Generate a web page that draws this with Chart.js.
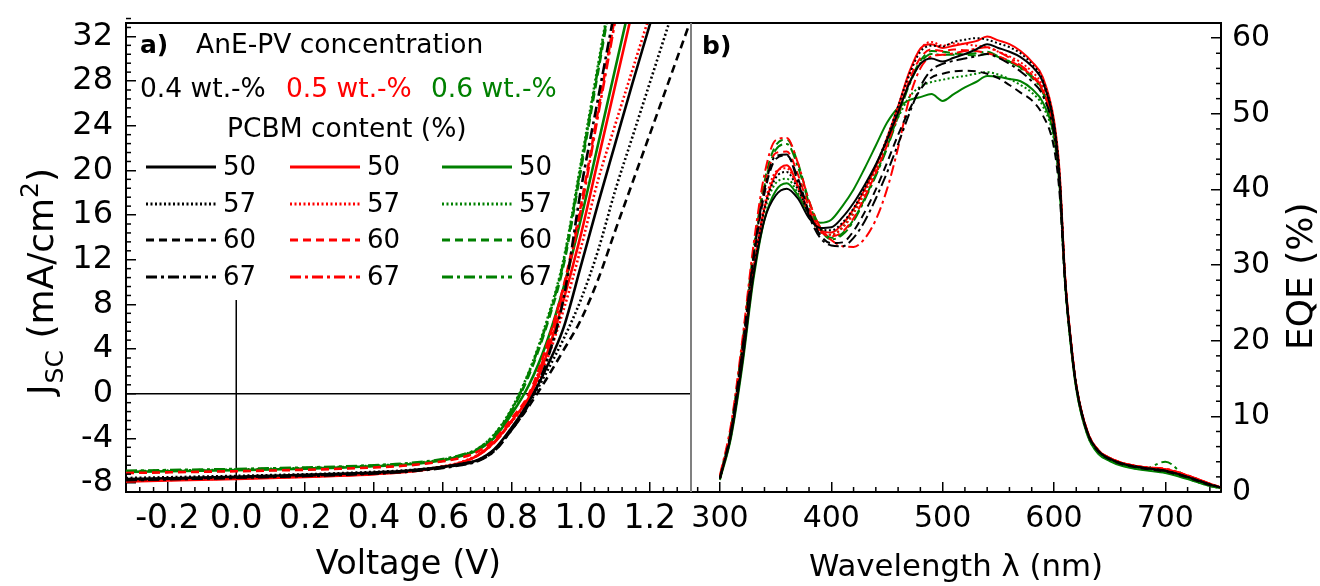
<!DOCTYPE html>
<html><head><meta charset="utf-8">
<script src="https://cdn.jsdelivr.net/npm/chart.js@4.4.1/dist/chart.umd.min.js"></script>
<style>
html,body{margin:0;padding:0;background:#fff;}
#wrap{position:relative;width:1320px;height:586px;overflow:hidden;background:#fff;}
canvas{position:absolute;left:0;top:0;}
</style></head><body>
<div id="wrap"><canvas id="jv" width="1320" height="586"></canvas><canvas id="eqe" width="1320" height="586"></canvas></div>
<script>
// ---------- DATA ----------
// Panel a) J-V curves: voltage grid (V) and current density (mA/cm2)
const voltage = [-0.32,-0.2,-0.1,0,0.1,0.2,0.3,0.4,0.5,0.6,0.65,0.7,0.75,0.8,0.85,0.9,0.95,1.0,1.05,1.1,1.15,1.2,1.25,1.3,1.35];
// 0.4 wt.-% (black)
const jv04_50 = [-7.65,-7.57,-7.5,-7.43,-7.35,-7.27,-7.17,-7.05,-6.87,-6.55,-6.3,-5.95,-4.95,-3.0,-0.7,2.3,5.9,11.4,17.0,22.4,27.8,33.0,38.3];
const jv04_57 = [-7.55,-7.48,-7.42,-7.36,-7.29,-7.22,-7.12,-7.0,-6.85,-6.55,-6.3,-5.95,-5.0,-3.1,-0.9,1.9,4.9,8.4,12.8,18.2,23.0,27.8,32.6,37.4];
const jv04_60 = [-7.7,-7.62,-7.55,-7.48,-7.4,-7.32,-7.22,-7.1,-6.92,-6.6,-6.35,-6.0,-5.1,-3.2,-1.1,1.3,3.9,6.6,10.2,14.6,18.9,23.2,27.5,31.8,36.1];
const jv04_67 = [-7.75,-7.67,-7.6,-7.53,-7.45,-7.37,-7.27,-7.15,-6.97,-6.65,-6.4,-6.05,-5.1,-3.2,-0.9,2.8,8.5,18.2,26.4,34.6];
// 0.5 wt.-% (red)
const jv05_50 = [-7.85,-7.77,-7.7,-7.63,-7.55,-7.46,-7.35,-7.2,-6.98,-6.55,-6.2,-5.55,-4.3,-2.4,-0.3,3.4,8.4,14.2,20.9,27.6,34.3];
const jv05_57 = [-7.8,-7.72,-7.65,-7.58,-7.5,-7.41,-7.3,-7.15,-6.94,-6.5,-6.15,-5.5,-4.3,-2.5,-0.5,2.9,7.5,13.0,19.1,24.1,29.0,33.9];
const jv05_60 = [-7.1,-7.04,-6.99,-6.94,-6.88,-6.81,-6.72,-6.6,-6.42,-6.05,-5.75,-5.2,-4.1,-2.2,0.0,4.2,9.6,16.8,25.3,33.9];
const jv05_67 = [-7.8,-7.72,-7.65,-7.58,-7.5,-7.42,-7.32,-7.18,-6.97,-6.55,-6.2,-5.55,-4.35,-2.45,-0.2,3.9,9.3,16.4,24.9,33.4];
// 0.6 wt.-% (green)
const jv06_50 = [-7.0,-6.94,-6.89,-6.84,-6.78,-6.71,-6.62,-6.5,-6.32,-5.95,-5.6,-5.05,-3.9,-1.8,0.8,4.5,9.5,15.6,22.3,29.1,35.9];
const jv06_57 = [-6.95,-6.89,-6.84,-6.79,-6.73,-6.66,-6.57,-6.45,-6.27,-5.9,-5.55,-4.95,-3.6,-1.3,2.0,6.4,12.0,20.6,29.4,38.2];
const jv06_60 = [-7.05,-6.99,-6.94,-6.89,-6.83,-6.76,-6.67,-6.55,-6.37,-6.0,-5.65,-5.05,-3.75,-1.5,1.7,6.0,11.5,20.0,28.8,37.6];
const jv06_67 = [-6.9,-6.84,-6.79,-6.74,-6.68,-6.61,-6.52,-6.4,-6.22,-5.85,-5.5,-4.95,-3.65,-1.4,1.9,6.2,11.8,20.3,29.1,37.9];

// Panel b) EQE spectra: wavelength grid (nm) and EQE (%)
const wavelength = [300,310,320,330,340,350,360,370,380,390,400,410,420,430,440,450,460,470,480,490,500,510,520,530,540,550,560,570,580,590,600,605,610,615,620,630,640,650,660,680,700,720,740,750];
const eqe04_50 = [1.8,7.5,17,28.5,36,39.2,40.1,38.8,36.2,34.9,35.0,36.3,38.2,40.6,43.3,46.5,50.2,54.0,56.6,57.3,56.9,57.4,57.9,58.5,59.2,58.7,58.2,57.5,56.3,54.2,48.5,41.5,28,20,14,7.9,5.4,4.4,3.8,3.2,2.8,2.0,1.0,0.6];
const eqe04_57 = [1.8,7.8,17.5,29,37.5,41.5,42.3,40,36.8,34.7,34.6,35.6,37.5,40.2,43.2,46.8,51,55.2,58.2,59.0,58.9,59.5,59.8,60.0,59.8,59.3,58.8,58.0,56.6,54.4,48.8,42,28.2,20.1,14.1,7.9,5.4,4.4,3.8,3.2,2.8,2.0,1.0,0.6];
const eqe04_60 = [1.8,8,18.5,30.5,39.5,44,44.5,41.5,37,34,32.9,33.0,34.5,37,40,43.5,47.2,50.5,53.2,54.8,55.3,55.6,55.7,55.6,55.3,54.7,53.8,52.8,51.8,49.8,45.5,39.5,27.5,19.8,13.9,7.8,5.3,4.3,3.7,3.1,2.7,1.9,0.9,0.6];
const eqe04_67 = [1.8,8.2,18.8,31,40,44.4,44.6,41,36.5,33.6,32.6,32.5,33.6,35.8,38.8,42.2,46,50,53.6,55.8,56.6,57.0,57.3,57.6,57.9,57.4,56.6,55.6,54.3,52.4,47.4,41,28,20,14,7.9,5.4,4.4,3.8,3.2,2.8,2.0,1.0,0.6];
const eqe05_50 = [1.8,7.8,17.5,29,37.5,42,43.2,40.5,37,34.6,34.3,35.4,37.4,40,43,46.8,51,55.5,58.6,59.2,58.7,59.0,59.3,59.6,60.2,59.7,59.2,58.3,56.9,54.8,49.2,42.5,28.5,20.3,14.2,8.0,5.5,4.5,3.9,3.3,3.0,2.2,1.1,0.6];
const eqe05_57 = [2,8,18,29.5,38,42.3,42.8,40.2,36.8,34.4,34.0,34.9,36.8,39.5,42.6,46.3,50.6,55,58.5,59.5,59.0,59.3,59.2,59.0,58.8,58.2,57.6,56.8,55.6,53.6,48.2,41.8,28.2,20.2,14.1,8.0,5.5,4.5,3.9,3.3,3.0,2.1,1.0,0.6];
const eqe05_60 = [1.9,8.2,18.8,31,40.2,44.8,45,42,37.6,34.6,33.8,34.4,36.2,39,42.2,45.8,50,54.4,57.4,58.5,58.3,58.5,58.4,58.3,58.0,57.6,57.0,56.2,55.0,53.0,47.8,41.5,28.3,20.2,14.1,8.0,5.5,4.5,3.9,3.3,3.0,2.2,1.1,0.6];
const eqe05_67 = [2.2,9,20,32.5,42,46.5,46.8,43.5,38.5,35,33.3,32.5,32.4,33.5,36,40,45.5,52,56,57.6,57.8,58,58.3,58.6,58.8,58.2,57.4,56.4,55.2,53.2,48,41.6,28.4,20.3,14.2,8.1,5.5,4.5,3.9,3.3,3.1,2.2,1.1,0.6];
const eqe06_50 = [1.6,7.2,16.5,28,36,39.8,40.8,39.2,36.8,35.6,36.0,37.8,40.0,42.8,45.8,48.8,50.8,51.8,52.2,52.6,51.7,52.6,53.5,54.2,55.0,54.9,54.6,54.3,53.3,51.5,47,40.5,27.5,19.5,13.6,7.5,5.0,4.1,3.5,2.9,2.5,1.7,0.8,0.5];
const eqe06_57 = [1.7,7.5,17.2,28.8,37,40.8,41.4,39.5,36.5,34.4,34.0,35.0,37.0,39.8,42.8,46.2,49.5,52.2,53.6,54.2,54.5,54.8,55.0,55.3,55.5,55.2,54.6,53.8,52.8,51,46.5,40.3,27.5,19.6,13.7,7.6,5.1,4.2,3.6,3.0,2.6,1.8,0.8,0.5];
const eqe06_60 = [2,8.6,19.5,31.8,41,45.8,46.6,43.5,38.5,35,33.6,34.2,36,38.8,42,45.6,49.8,54,57,58.3,58.2,58.0,57.8,57.7,57.9,57.5,56.9,56.1,55.0,53,47.6,41.2,28,20,14,7.8,5.2,4.2,3.6,3.0,2.6,1.8,0.9,0.5];
const eqe06_67 = [2,8.5,19.2,31.4,40.5,45.2,46,43,38.2,34.8,33.4,34.0,35.8,38.6,41.8,45.4,49.6,53.8,56.7,57.9,57.8,57.8,57.9,58.0,58.2,57.6,56.9,56.0,54.8,52.8,47.4,41,27.9,19.9,13.9,7.8,5.2,4.2,3.6,3.0,4.0,1.8,0.9,0.5];

// Labels and ticks
const concentrationLabels = ['0.4 wt.-%','0.5 wt.-%','0.6 wt.-%'];
const pcbmLabels = ['50','57','60','67'];
const jvXTicks = [-0.2,0,0.2,0.4,0.6,0.8,1.0,1.2];
const jvYTicks = [-8,-4,0,4,8,12,16,20,24,28,32];
const eqeXTicks = [300,400,500,600,700];
const eqeYTicks = [0,10,20,30,40,50,60];

// ---------- STYLE ----------
const FONT = "'DejaVu Sans', sans-serif";
Chart.defaults.font.family = FONT;
const COLORS = ['#000000','#ff0000','#008000'];
const DASHES = [[], [2,2.5], [8,5], [11,4,3,4]];
const JV_X = [-0.32, 1.32], JV_Y = [-8.8, 33.2];
const EQE_X = [274, 750], EQE_Y = [0, 62];

const jvSeries = [[jv04_50,jv04_57,jv04_60,jv04_67],[jv05_50,jv05_57,jv05_60,jv05_67],[jv06_50,jv06_57,jv06_60,jv06_67]];
const eqeSeries = [[eqe04_50,eqe04_57,eqe04_60,eqe04_67],[eqe05_50,eqe05_57,eqe05_60,eqe05_67],[eqe06_50,eqe06_57,eqe06_60,eqe06_67]];

function buildSets(series, xs, width) {
  const out = [];
  series.forEach((group, c) => group.forEach((arr, p) => {
    out.push({
      label: concentrationLabels[c] + ' / ' + pcbmLabels[p],
      data: arr.map((y, i) => ({x: xs[i], y: y})),
      borderColor: COLORS[c], borderWidth: width, borderDash: DASHES[p],
      pointRadius: 0, fill: false, cubicInterpolationMode: 'monotone'
    });
  }));
  return out;
}

function minorValues(min, max, step, majors) {
  const out = [];
  const n = Math.round((max - min) / step);
  for (let i = 0; i <= n; i++) {
    const v = +(min + i * step).toFixed(6);
    if (!majors.some(m => Math.abs(m - v) < 1e-6)) out.push(v);
  }
  return out;
}

function line(ctx, x1, y1, x2, y2, color, w) {
  ctx.save(); ctx.strokeStyle = color; ctx.lineWidth = w; ctx.setLineDash([]);
  ctx.beginPath(); ctx.moveTo(x1, y1); ctx.lineTo(x2, y2); ctx.stroke(); ctx.restore();
}

function text(ctx, s, x, y, size, color, bold, align) {
  ctx.save(); ctx.font = (bold ? 'bold ' : '') + size + 'px ' + FONT;
  ctx.fillStyle = color; ctx.textAlign = align || 'left'; ctx.textBaseline = 'middle';
  ctx.fillText(s, x, y); ctx.restore();
}

function noPad(s) { s.paddingTop = 0; s.paddingBottom = 0; s.paddingLeft = 0; s.paddingRight = 0; }

// ---------- PANEL a) ----------
const jvDecor = {
  id: 'jvDecor',
  beforeDatasetsDraw(chart) {
    const {ctx, chartArea: a, scales: {x, y}} = chart;
    const y0 = y.getPixelForValue(0), x0 = x.getPixelForValue(0);
    line(ctx, a.left, y0, a.right, y0, '#000', 1.5);
    line(ctx, x0, a.bottom, x0, y.getPixelForValue(8.4), '#000', 1.5);
  },
  afterDraw(chart) {
    const {ctx, chartArea: a, scales: {x, y}} = chart;
    line(ctx, a.left - 1, a.top, a.right, a.top, '#000', 2);
    line(ctx, a.right, a.top, a.right, a.bottom, '#808080', 2);
    minorValues(JV_X[0], JV_X[1], 0.04, jvXTicks).forEach(v => {
      const px = x.getPixelForValue(v); line(ctx, px, a.bottom, px, a.bottom - 5, '#000', 1.5);
    });
    minorValues(JV_Y[0], JV_Y[1], 0.8, jvYTicks).forEach(v => {
      const py = y.getPixelForValue(v); line(ctx, a.left, py, a.left + 5, py, '#000', 1.5);
    });
    // headings
    text(ctx, 'a)', 140, 46, 25, '#000', true);
    text(ctx, 'AnE-PV concentration', 196, 46, 26.5, '#000');
    const concX = [140, 286, 431];
    concentrationLabels.forEach((s, c) => text(ctx, s, concX[c], 90, 26.5, COLORS[c]));
    text(ctx, 'PCBM content (%)', 227, 130, 26.5, '#000');
    const rowY = [167, 204, 240, 277], colX = [146, 290, 442];
    colX.forEach((cx, c) => rowY.forEach((ry, p) => {
      ctx.save(); ctx.strokeStyle = COLORS[c]; ctx.lineWidth = 3; ctx.setLineDash(DASHES[p]);
      ctx.beginPath(); ctx.moveTo(cx, ry); ctx.lineTo(cx + 70, ry); ctx.stroke(); ctx.restore();
      text(ctx, pcbmLabels[p], cx + 77, ry + 1, 26, '#000');
    }));
    // y title J_SC (mA/cm^2), rotated
    ctx.save(); ctx.translate(53, 395); ctx.rotate(-Math.PI / 2);
    ctx.fillStyle = '#000'; ctx.textBaseline = 'alphabetic'; ctx.textAlign = 'left';
    let cx = 0;
    ctx.font = '36px ' + FONT; ctx.fillText('J', cx, 0); cx += ctx.measureText('J').width + 1;
    ctx.font = '25px ' + FONT; ctx.fillText('SC', cx, 10); cx += ctx.measureText('SC').width;
    ctx.font = '36px ' + FONT; ctx.fillText(' (mA/cm', cx, 0); cx += ctx.measureText(' (mA/cm').width;
    ctx.font = '25px ' + FONT; ctx.fillText('2', cx, -15); cx += ctx.measureText('2').width;
    ctx.font = '36px ' + FONT; ctx.fillText(')', cx, 0);
    ctx.restore();
  }
};

new Chart(document.getElementById('jv'), {
  type: 'line',
  data: {datasets: buildSets(jvSeries, voltage, 2.6)},
  options: {
    responsive: false, animation: false, events: [],
    layout: {padding: {left: 0, right: 629, top: 23, bottom: 0}},
    plugins: {legend: {display: false}, tooltip: {enabled: false}},
    scales: {
      x: {type: 'linear', position: 'bottom', min: JV_X[0], max: JV_X[1], bounds: 'data',
        afterBuildTicks: s => { s.ticks = jvXTicks.map(v => ({value: v})); },
        afterFit: s => { s.height = 94; noPad(s); },
        ticks: {autoSkip: false, maxRotation: 0, padding: 18, color: '#000', font: {size: 33}, callback: v => v.toFixed(1)},
        grid: {drawOnChartArea: false, tickLength: -10, color: '#000', lineWidth: 1.5},
        border: {display: true, color: '#000', width: 2},
        title: {display: true, text: 'Voltage (V)', color: '#000', font: {size: 33.5}, padding: {top: 0, bottom: 1}}},
      y: {type: 'linear', position: 'left', min: JV_Y[0], max: JV_Y[1], bounds: 'data',
        afterBuildTicks: s => { s.ticks = jvYTicks.map(v => ({value: v})); },
        afterFit: s => { s.width = 126; noPad(s); },
        ticks: {padding: 23, color: '#000', font: {size: 32}},
        grid: {drawOnChartArea: false, tickLength: -10, color: '#000', lineWidth: 1.5},
        border: {display: true, color: '#000', width: 2}}
    }
  },
  plugins: [jvDecor]
});

// ---------- PANEL b) ----------
const eqeDecor = {
  id: 'eqeDecor',
  afterDraw(chart) {
    const {ctx, chartArea: a, scales: {x, y}} = chart;
    line(ctx, a.left, a.top, a.right + 1, a.top, '#000', 2);
    line(ctx, a.left, a.top, a.left, a.bottom, '#808080', 2);
    minorValues(280, 740, 20, eqeXTicks).forEach(v => {
      const px = x.getPixelForValue(v); line(ctx, px, a.bottom, px, a.bottom - 5, '#000', 1.5);
    });
    minorValues(0, 62, 2, eqeYTicks).forEach(v => {
      const py = y.getPixelForValue(v); line(ctx, a.right, py, a.right - 5, py, '#000', 1.5);
    });
    text(ctx, 'b)', 702, 47, 25, '#000', true);
    ctx.save(); ctx.translate(1312, 350); ctx.rotate(-Math.PI / 2);
    ctx.fillStyle = '#000'; ctx.textBaseline = 'alphabetic'; ctx.textAlign = 'left';
    ctx.font = '36px ' + FONT; ctx.fillText('EQE (%)', 0, 0);
    ctx.restore();
  }
};

new Chart(document.getElementById('eqe'), {
  type: 'line',
  data: {datasets: buildSets(eqeSeries, wavelength, 2)},
  options: {
    responsive: false, animation: false, events: [],
    layout: {padding: {left: 691, right: 0, top: 23, bottom: 0}},
    plugins: {legend: {display: false}, tooltip: {enabled: false}},
    scales: {
      x: {type: 'linear', position: 'bottom', min: EQE_X[0], max: EQE_X[1], bounds: 'data',
        afterBuildTicks: s => { s.ticks = eqeXTicks.map(v => ({value: v})); },
        afterFit: s => { s.height = 94; noPad(s); },
        ticks: {autoSkip: false, maxRotation: 0, padding: 19, color: '#000', font: {size: 30}},
        grid: {drawOnChartArea: false, tickLength: -10, color: '#000', lineWidth: 1.5},
        border: {display: true, color: '#000', width: 2},
        title: {display: true, text: 'Wavelength λ (nm)', color: '#000', font: {size: 30.8}, padding: {top: 0, bottom: 0}}},
      y: {type: 'linear', position: 'right', min: EQE_Y[0], max: EQE_Y[1], bounds: 'data',
        afterBuildTicks: s => { s.ticks = eqeYTicks.map(v => ({value: v})); },
        afterFit: s => { s.width = 99; noPad(s); },
        ticks: {padding: 21, color: '#000', font: {size: 30}},
        grid: {drawOnChartArea: false, tickLength: -10, color: '#000', lineWidth: 1.5},
        border: {display: true, color: '#000', width: 2}}
    }
  },
  plugins: [eqeDecor]
});
</script>
</body></html>
